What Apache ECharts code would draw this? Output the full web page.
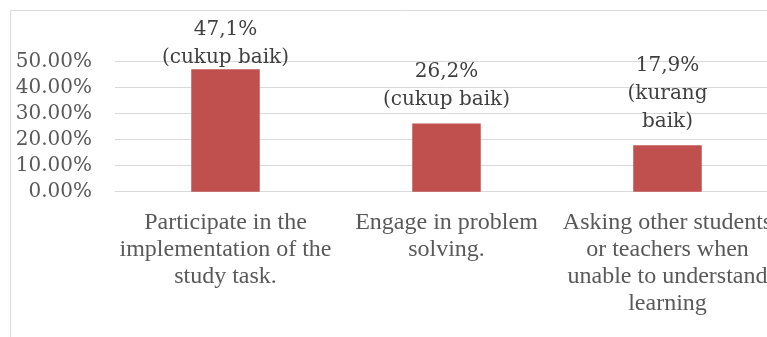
<!DOCTYPE html>
<html><head><meta charset="utf-8">
<script src="https://cdn.jsdelivr.net/npm/echarts@6/dist/echarts.min.js"></script>
<style>html,body{margin:0;padding:0;background:#fff;overflow:hidden}#c{width:800px;height:337px}</style>
</head><body><div id="c"></div>
<script>
const categories = [
  "Participate in the\nimplementation of the\nstudy task.",
  "Engage in problem\nsolving.",
  "Asking other students\nor teachers when\nunable to understand\nlearning"
];
const values = [47.1, 26.2, 17.9];
const labelTexts = ["47,1%\n(cukup baik)", "26,2%\n(cukup baik)", "17,9%\n(kurang\nbaik)"];

const labelOffsetsY = [8, -5, -4];
const chart = echarts.init(document.getElementById('c'));
chart.setOption({
  animation: false,
  graphic: [{type:'rect', shape:{x:10.5,y:10.5,width:820,height:400}, style:{fill:'none', stroke:'#D9D9D9', lineWidth:1}, silent:true}],
  grid: {left:115, top:61.7, width:663, height:130, containLabel:false},
  xAxis: {
    type:'category', data:categories,
    axisLine:{lineStyle:{color:'#D9D9D9'}}, axisTick:{show:false},
    axisLabel:{interval:0, fontFamily:'Liberation Serif', fontSize:24, color:'#595959', lineHeight:27, margin:18}
  },
  yAxis: {
    type:'value', min:0, max:50, interval:10,
    axisLine:{show:false}, axisTick:{show:false},
    splitLine:{lineStyle:{color:'#D9D9D9', width:1}},
    axisLabel:{fontFamily:'DejaVu Serif', fontSize:20, color:'#595959', margin:23,
      formatter: v => v.toFixed(2)+'%'},
  },
  series: [{
    type:'bar', barWidth:'31%',
    itemStyle:{color:'#C0504D'},
    data: values.map((v,i)=>({value:v, label:{formatter:labelTexts[i], offset:[0,labelOffsetsY[i]]}})),
    label:{show:true, position:'top', fontFamily:'DejaVu Serif', fontSize:20, color:'#404040', lineHeight:28}
  }]
});
</script></body></html>
